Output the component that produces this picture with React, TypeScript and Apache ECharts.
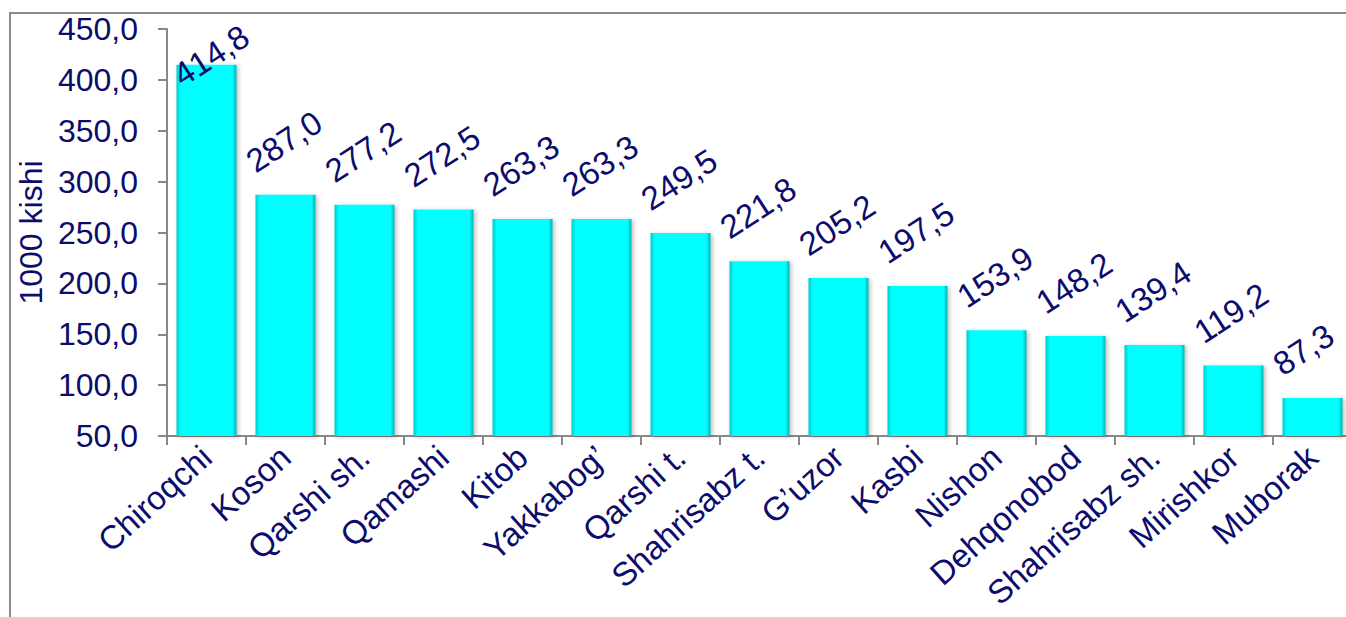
import React, { useEffect, useRef } from "react";
import * as echarts from "echarts";

const categories = [
  "Chiroqchi", "Koson", "Qarshi sh.", "Qamashi", "Kitob", "Yakkabog’", "Qarshi t.",
  "Shahrisabz t.", "G’uzor", "Kasbi", "Nishon", "Dehqonobod", "Shahrisabz sh.", "Mirishkor", "Muborak",
];
const values = [414.8, 287.0, 277.2, 272.5, 263.3, 263.3, 249.5, 221.8, 205.2, 197.5, 153.9, 148.2, 139.4, 119.2, 87.3];
const yAxisTitle = "1000 kishi";
const yMin = 50;
const yMax = 450;
const yStep = 50;

const TEXT = "#0c0c6c";
const FONT = "'Liberation Sans', Arial, sans-serif";
const fmt = (v: number) => v.toFixed(1).replace(".", ",");

export default function App() {
  const ref = useRef<HTMLDivElement>(null);
  useEffect(() => {
    if (!ref.current) return;
    const chart = echarts.init(ref.current, null, { renderer: "svg" });
    const barColor = new echarts.graphic.LinearGradient(0, 0, 1, 0, [
      { offset: 0, color: "#00caca" },
      { offset: 0.07, color: "#00ffff" },
      { offset: 0.93, color: "#00ffff" },
      { offset: 1, color: "#00b4b4" },
    ]);
    const data = values.map((v, i) =>
      i === 0
        ? { value: v, label: { position: [9, 27] } }
        : { value: v }
    );
    chart.setOption({
      animation: false,
      backgroundColor: "#ffffff",
      textStyle: { fontFamily: FONT },
      graphic: [
        {
          type: "rect",
          shape: { x: 10, y: 13, width: 1400, height: 700 },
          style: { fill: "none", stroke: "#8a8a8a", lineWidth: 2 },
          silent: true,
        },
      ],
      grid: { left: 167, right: 0, top: 29, bottom: 181, containLabel: false },
      xAxis: {
        type: "category",
        data: categories,
        axisLine: { lineStyle: { color: "#888888", width: 2 } },
        axisTick: { show: true, length: 9, lineStyle: { color: "#888888", width: 2 } },
        axisLabel: {
          rotate: 42,
          interval: 0,
          margin: 16,
          color: TEXT,
          fontSize: 33,
          fontFamily: FONT,
        },
      },
      yAxis: {
        type: "value",
        min: yMin,
        max: yMax,
        interval: yStep,
        name: yAxisTitle,
        nameLocation: "middle",
        nameRotate: 90,
        nameGap: 117,
        nameTextStyle: { color: TEXT, fontSize: 32, fontFamily: FONT },
        axisLine: { show: true, lineStyle: { color: "#888888", width: 2 } },
        axisTick: { show: true, length: 9, lineStyle: { color: "#888888", width: 2 } },
        splitLine: { show: false },
        axisLabel: {
          formatter: (v: number) => fmt(v),
          color: TEXT,
          fontSize: 32,
          margin: 29,
          fontFamily: FONT,
        },
      },
      series: [
        {
          type: "bar",
          data,
          barCategoryGap: "24%",
          itemStyle: {
            color: barColor,
            shadowColor: "rgba(0,0,0,0.25)",
            shadowBlur: 4,
            shadowOffsetX: 2,
            shadowOffsetY: 1,
          },
          label: {
            show: true,
            position: [3, -17],
            align: "left",
            verticalAlign: "bottom",
            rotate: 33,
            color: TEXT,
            fontSize: 33,
            fontFamily: FONT,
            formatter: (p: any) => fmt(p.value),
          },
        },
      ],
    });
    return () => chart.dispose();
  }, []);
  return (
    <div style={{ position: "fixed", left: 0, top: 0, width: 1346, height: 617, overflow: "hidden", background: "#fff" }}>
      <div ref={ref} style={{ position: "absolute", left: 0, top: 0, width: 1352, height: 617 }} />
    </div>
  );
}
